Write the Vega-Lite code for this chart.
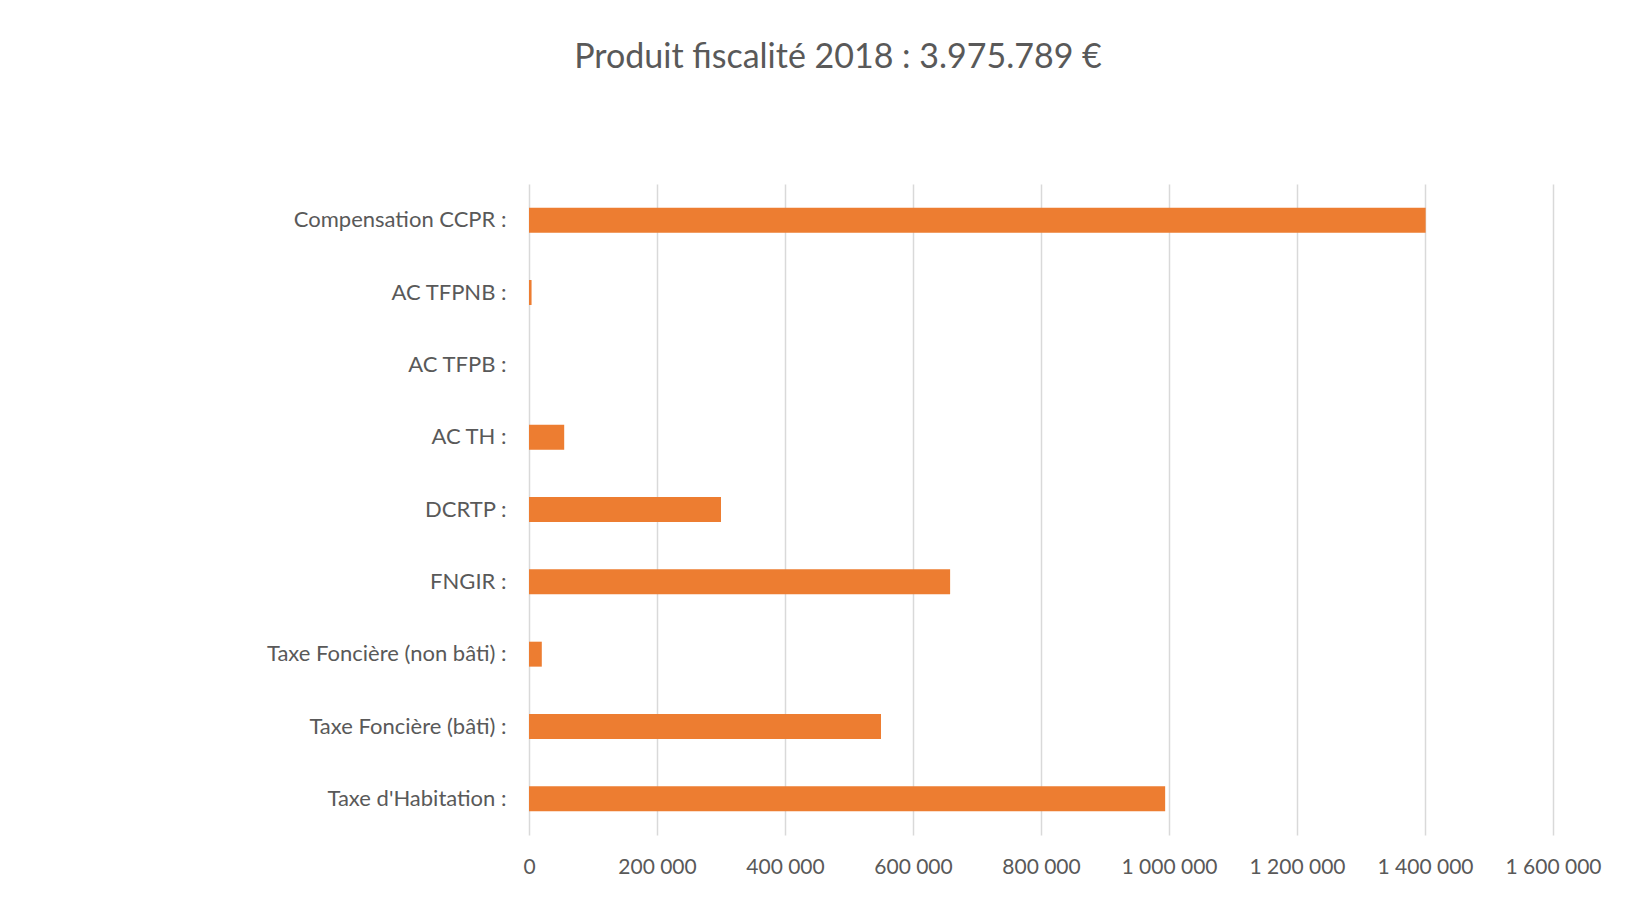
{
  "$schema": "https://vega.github.io/schema/vega-lite/v6.json",
  "autosize": "none",
  "width": 1024,
  "height": 651,
  "padding": {"left": 529, "top": 184, "right": 97, "bottom": 73},
  "background": "white",
  "title": {
    "text": "Produit fiscalité 2018 : 3.975.789 €",
    "font": "Lato",
    "fontSize": 34,
    "fontWeight": "normal",
    "color": "#595959",
    "anchor": "middle",
    "dx": -203,
    "offset": 109
  },
  "data": {
    "values": [
      {"categorie": "Compensation CCPR :", "montant": 1401000},
      {"categorie": "AC TFPNB :", "montant": 4000},
      {"categorie": "AC TFPB :", "montant": 0},
      {"categorie": "AC TH :", "montant": 55000},
      {"categorie": "DCRTP :", "montant": 300000},
      {"categorie": "FNGIR :", "montant": 658000},
      {"categorie": "Taxe Foncière (non bâti) :", "montant": 20000},
      {"categorie": "Taxe Foncière (bâti) :", "montant": 550000},
      {"categorie": "Taxe d'Habitation :", "montant": 994000}
    ]
  },
  "mark": {"type": "bar", "color": "#ED7D31"},
  "encoding": {
    "y": {
      "field": "categorie",
      "type": "nominal",
      "sort": null,
      "scale": {"paddingInner": 0.655, "paddingOuter": 0.3275},
      "axis": {
        "title": null,
        "ticks": false,
        "domain": false,
        "labelPadding": 23,
        "labelFont": "Lato",
        "labelFontSize": 22,
        "labelColor": "#595959",
        "labelLimit": 400
      }
    },
    "x": {
      "field": "montant",
      "type": "quantitative",
      "scale": {"domain": [0, 1600000], "nice": false},
      "axis": {
        "title": null,
        "values": [0, 200000, 400000, 600000, 800000, 1000000, 1200000, 1400000, 1600000],
        "format": ",d",
        "labelExpr": "replace(replace(datum.label, ',', ' '), ',', ' ')",
        "ticks": false,
        "domain": false,
        "grid": true,
        "gridColor": "#d9d9d9",
        "gridWidth": 1.5,
        "labelPadding": 21,
        "labelFont": "Lato",
        "labelFontSize": 21,
        "labelColor": "#595959",
        "labelFlush": false
      }
    }
  },
  "config": {"view": {"stroke": null}}
}
